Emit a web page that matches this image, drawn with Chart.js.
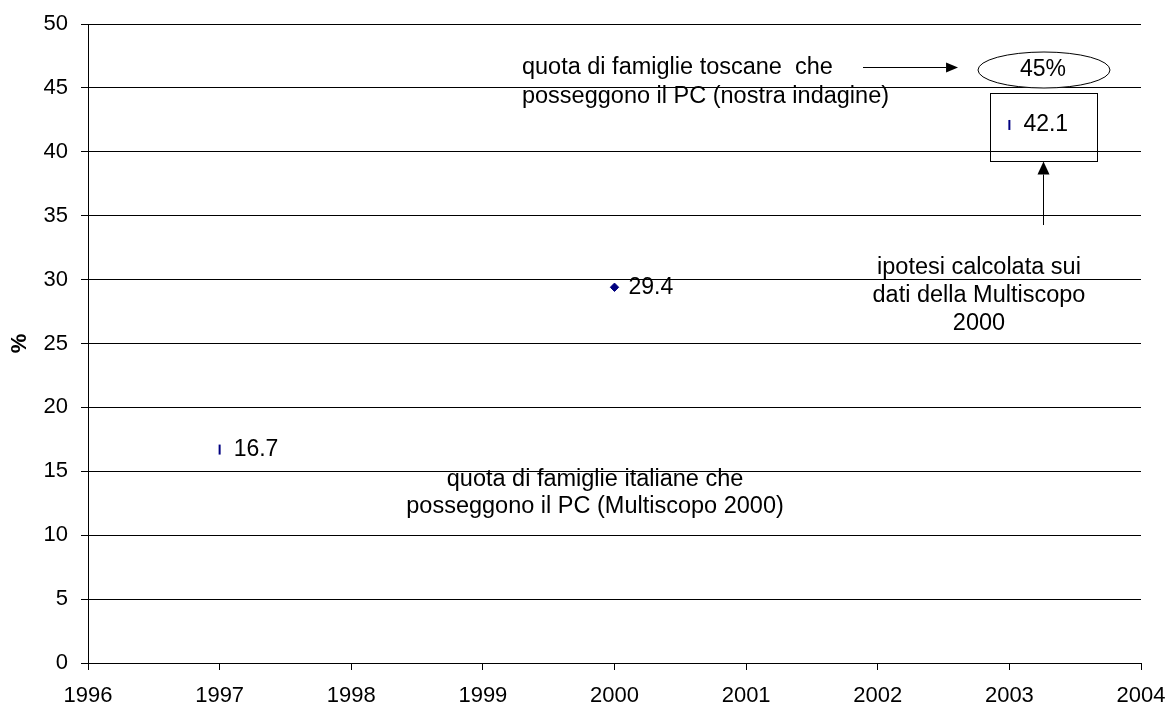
<!DOCTYPE html>
<html><head><meta charset="utf-8">
<script src="https://cdn.jsdelivr.net/npm/chart.js@4/dist/chart.umd.min.js"></script>
<style>html,body{margin:0;padding:0;background:#fff}#wrap{width:1171px;height:709px;position:relative}canvas{display:block}</style>
</head><body><div id="wrap"><canvas id="c" width="1171" height="709"></canvas></div>
<script>
// ---- data ----
const years = [1997, 2000, 2003];
const shares = [16.7, 29.4, 42.1];
const shareLabels = ['16.7', '29.4', '42.1'];
const markerStyles = ['line', 'rectRot', 'line'];
const xTickValues = [1996, 1997, 1998, 1999, 2000, 2001, 2002, 2003, 2004];
const yTickValues = [0, 5, 10, 15, 20, 25, 30, 35, 40, 45, 50];
const yTitle = '%';
const noteToscane = ['quota di famiglie toscane  che', 'posseggono il PC (nostra indagine)'];
const noteToscaneValue = '45%';
const noteIpotesi = ['ipotesi calcolata sui', 'dati della Multiscopo', '2000'];
const noteItaliane = ['quota di famiglie italiane che', 'posseggono il PC (Multiscopo 2000)'];

const FONT = "'Liberation Sans', Arial, sans-serif";

const notesPlugin = {
  id: 'notes',
  afterDraw(chart) {
    const ctx = chart.ctx;
    const xs = chart.scales.x, ys = chart.scales.y;
    const X = v => xs.getPixelForValue(v);
    const Y = v => ys.getPixelForValue(v);
    ctx.save();
    // data labels
    const meta = chart.getDatasetMeta(0);
    ctx.fillStyle = '#000';
    ctx.font = '23px ' + FONT;
    ctx.textBaseline = 'middle';
    ctx.textAlign = 'left';
    meta.data.forEach((p, i) => {
      ctx.fillText(shareLabels[i], p.x + 14, p.y);
    });

    ctx.strokeStyle = '#000';
    ctx.lineWidth = 1;
    const arrow = (x1, y1, x2, y2, len, half) => {
      const a = Math.atan2(y2 - y1, x2 - x1);
      const bx = x2 - Math.cos(a) * len, by = y2 - Math.sin(a) * len;
      ctx.beginPath(); ctx.moveTo(x1, y1); ctx.lineTo(bx, by); ctx.stroke();
      ctx.beginPath();
      ctx.moveTo(x2, y2);
      ctx.lineTo(bx + Math.sin(a) * half, by - Math.cos(a) * half);
      ctx.lineTo(bx - Math.sin(a) * half, by + Math.cos(a) * half);
      ctx.closePath(); ctx.fillStyle = '#000'; ctx.fill();
    };

    ctx.font = '23.5px ' + FONT;
    ctx.fillStyle = '#000';
    // Toscane note
    ctx.textAlign = 'left';
    noteToscane.forEach((t, i) => ctx.fillText(t, X(1999.297), Y(46.63) + i * 29.5));
    arrow(X(2001.888), Math.round(Y(46.64)) + 0.5, X(2002.61), Math.round(Y(46.64)) + 0.5, 12, 5);
    // ellipse
    ctx.beginPath();
    ctx.ellipse(X(2003.263), Y(46.40), 66, 18, 0, 0, Math.PI * 2);
    ctx.fillStyle = '#fff'; ctx.fill(); ctx.stroke();
    ctx.fillStyle = '#000';
    ctx.textAlign = 'center';
    ctx.font = '23px ' + FONT;
    ctx.fillText(noteToscaneValue, X(2003.255), Y(46.40));
    // rectangle
    const rx1 = Math.round(X(2002.853)) + 0.5, rx2 = Math.round(X(2003.666)) + 0.5;
    const ry1 = Math.round(Y(44.60)) + 0.5, ry2 = Math.round(Y(39.28)) + 0.5;
    ctx.strokeRect(rx1, ry1, rx2 - rx1, ry2 - ry1);
    // vertical arrow
    const ax = Math.round(X(2003.256)) + 0.5;
    arrow(ax, Y(34.27), ax, ry2, 13, 6);
    // ipotesi note
    ctx.font = '23.5px ' + FONT;
    ctx.textAlign = 'center';
    noteIpotesi.forEach((t, i) => ctx.fillText(t, X(2002.769), Y(30.91) + i * 28));
    // italiane note
    noteItaliane.forEach((t, i) => ctx.fillText(t, X(1999.852), Y(14.32) + i * 27));
    ctx.restore();
  }
};

new Chart(document.getElementById('c'), {
  type: 'scatter',
  data: {
    datasets: [{
      data: years.map((x, i) => ({ x: x, y: shares[i] })),
      pointStyle: markerStyles,
      pointRotation: [90, 0, 90],
      pointRadius: [5, 4.2, 5],
      borderWidth: [2, 1, 2],
      borderColor: '#000080',
      backgroundColor: '#000080',
      showLine: false
    }]
  },
  options: {
    responsive: false,
    devicePixelRatio: 1,
    animation: false,
    events: [],
    layout: { padding: { left: 0, right: 30, top: 24, bottom: 0 } },
    plugins: { legend: { display: false }, tooltip: { enabled: false } },
    scales: {
      x: {
        type: 'linear', min: 1996, max: 2004,
        afterBuildTicks: s => { s.ticks = xTickValues.map(v => ({ value: v })); },
        afterFit: s => { s.height = 46; s.paddingLeft = 0; s.paddingRight = 0; },
        ticks: { callback: v => String(v), color: '#000', font: { family: FONT, size: 22 }, padding: 13, maxRotation: 0, autoSkip: false },
        grid: { drawOnChartArea: false, drawTicks: true, tickLength: 7, color: '#000' },
        border: { display: true, color: '#000', width: 1 }
      },
      y: {
        min: 0, max: 50,
        afterBuildTicks: s => { s.ticks = yTickValues.map(v => ({ value: v })); },
        afterFit: s => { s.width = 88; s.paddingTop = 0; s.paddingBottom = 0; },
        ticks: { callback: v => String(v), color: '#000', font: { family: FONT, size: 22 }, padding: 13, autoSkip: false },
        grid: { drawOnChartArea: true, drawTicks: true, tickLength: 7, color: '#000' },
        border: { display: true, color: '#000', width: 1 },
        title: { display: true, text: yTitle, color: '#000', font: { family: FONT, size: 22, weight: 'bold' }, padding: { top: 7, bottom: 0 } }
      }
    }
  },
  plugins: [notesPlugin]
});
</script></body></html>
